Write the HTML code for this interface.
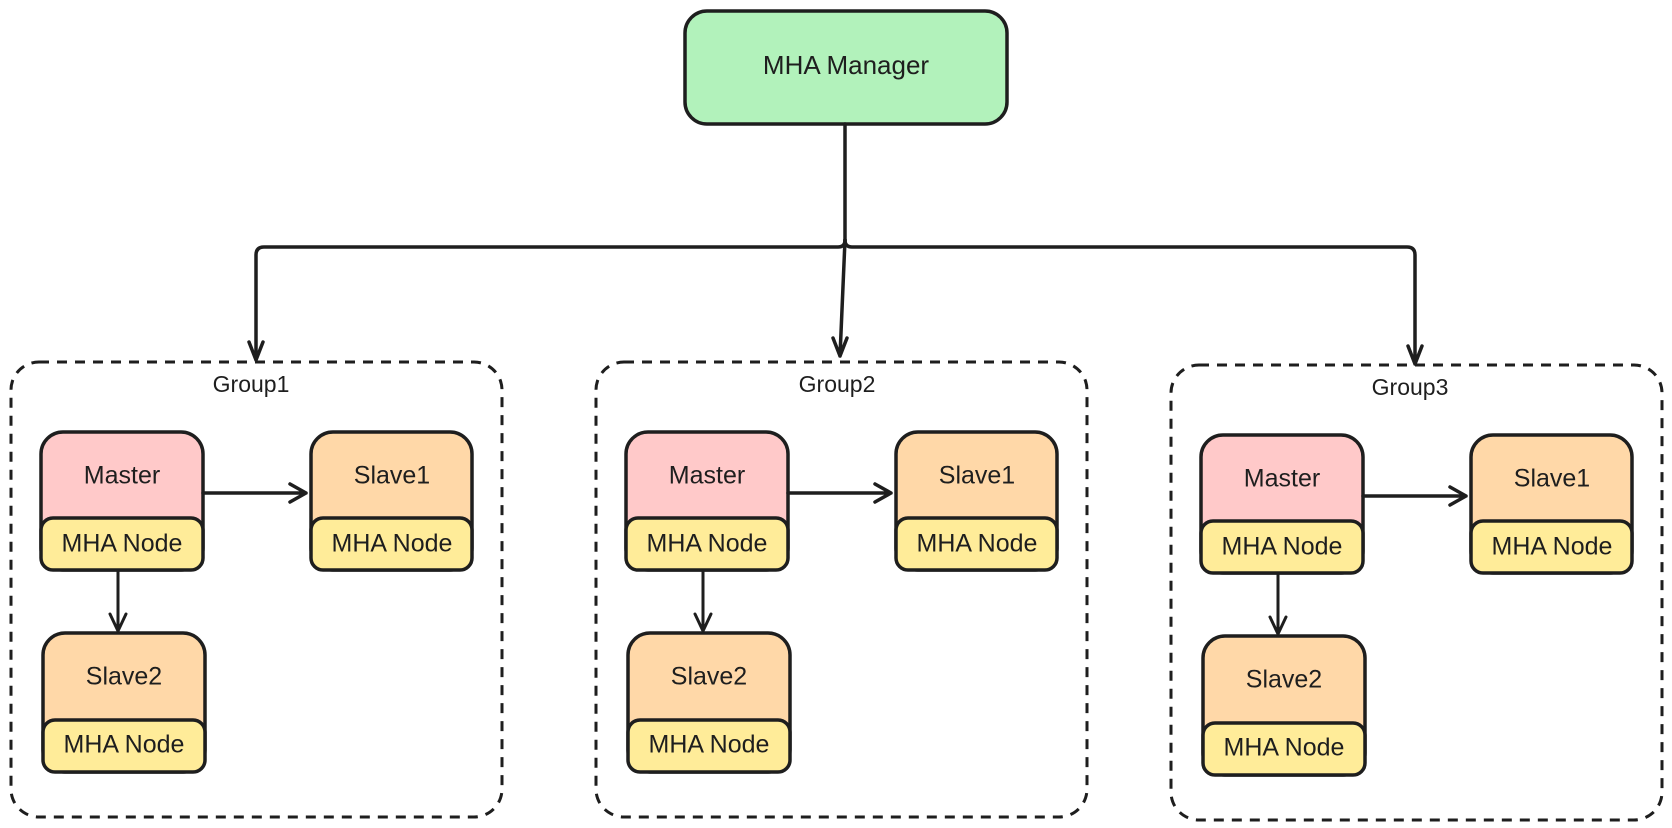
<!DOCTYPE html>
<html><head><meta charset="utf-8"><style>
html,body{margin:0;padding:0;background:#fff;}
svg{display:block}
text{font-family:"Liberation Sans",sans-serif;fill:#1e1e1e;text-anchor:middle;dominant-baseline:middle}
</style></head><body>
<svg width="1672" height="828" viewBox="0 0 1672 828" xmlns="http://www.w3.org/2000/svg">
<defs>
<g id="grp">
  <rect x="11" y="362" width="491" height="455" rx="28" fill="none" stroke="#1e1e1e" stroke-width="3" stroke-dasharray="10 8"/>
  <!-- Master -->
  <rect x="41" y="432" width="162" height="138" rx="22" fill="#ffc9c9" stroke="#1e1e1e" stroke-width="3.5"/>
  <rect x="41" y="518" width="162" height="52" rx="12" fill="#ffec99" stroke="#1e1e1e" stroke-width="3.5"/>
  <text x="122" y="477" font-size="25">Master</text>
  <text x="122" y="545" font-size="25">MHA Node</text>
  <!-- Slave1 -->
  <rect x="311" y="432" width="161" height="138" rx="22" fill="#ffd8a8" stroke="#1e1e1e" stroke-width="3.5"/>
  <rect x="311" y="518" width="161" height="52" rx="12" fill="#ffec99" stroke="#1e1e1e" stroke-width="3.5"/>
  <text x="392" y="477" font-size="25">Slave1</text>
  <text x="392" y="545" font-size="25">MHA Node</text>
  <!-- Slave2 -->
  <rect x="43" y="633" width="162" height="139" rx="22" fill="#ffd8a8" stroke="#1e1e1e" stroke-width="3.5"/>
  <rect x="43" y="720" width="162" height="52" rx="12" fill="#ffec99" stroke="#1e1e1e" stroke-width="3.5"/>
  <text x="124" y="678" font-size="25">Slave2</text>
  <text x="124" y="746" font-size="25">MHA Node</text>
  <!-- arrows -->
  <path d="M203 493 L306 493 M290 484 L306 493 L290 502" fill="none" stroke="#1e1e1e" stroke-width="3.5" stroke-linecap="round" stroke-linejoin="round"/>
  <path d="M118 572 L118 631 M110 614 L118 631 L126 614" fill="none" stroke="#1e1e1e" stroke-width="3" stroke-linecap="round" stroke-linejoin="round"/>
</g>
</defs>
<rect x="685" y="11" width="322" height="113" rx="22" fill="#b2f2bb" stroke="#1e1e1e" stroke-width="3.5"/>
<text x="846" y="67" font-size="26">MHA Manager</text>
<g fill="none" stroke="#1e1e1e" stroke-width="3.5" stroke-linecap="round" stroke-linejoin="round">
  <path d="M845 124 L845 240"/>
  <path d="M845 240 Q845 247 838 247 L264 247 Q256 247 256 255 L256 360 M249 342 L256 360 L263 342"/>
  <path d="M845 240 Q845 247 852 247 L1407 247 Q1415 247 1415 255 L1415 364 M1408 346 L1415 364 L1422 346"/>
  <path d="M845 240 L840 356 M833 338 L840 356 L847 338"/>
</g>
<text x="251" y="386" font-size="23">Group1</text>
<text x="837" y="386" font-size="23">Group2</text>
<text x="1410" y="389" font-size="23">Group3</text>
<use href="#grp"/>
<use href="#grp" transform="translate(585,0)"/>
<use href="#grp" transform="translate(1160,3)"/>
</svg>
</body></html>
